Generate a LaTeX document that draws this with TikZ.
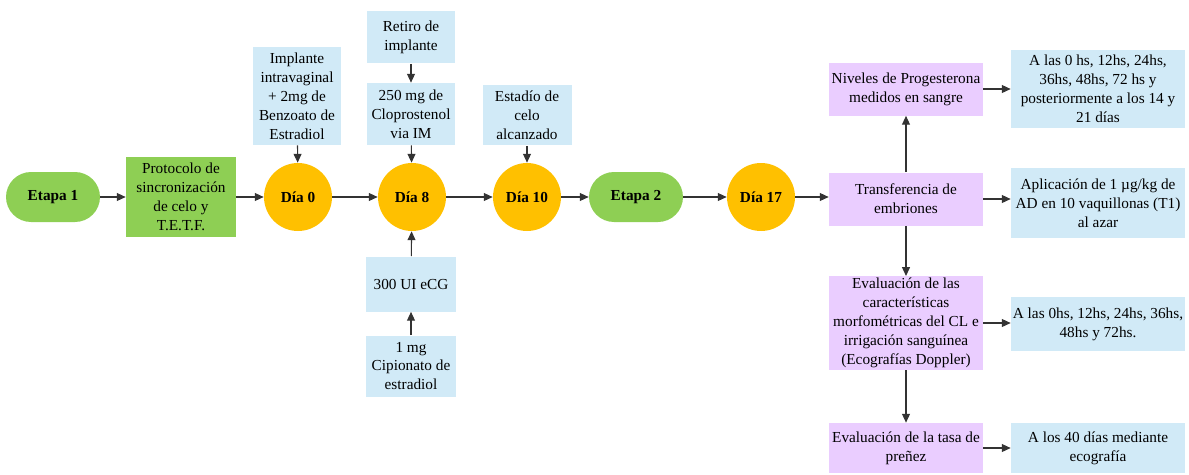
\documentclass[tikz,border=0pt]{standalone}
\usepackage{fontspec}
\setmainfont{Liberation Serif}
\usetikzlibrary{arrows.meta}
\definecolor{verde}{RGB}{142,207,84}
\definecolor{naranja}{RGB}{255,192,0}
\definecolor{celeste}{RGB}{209,234,247}
\definecolor{lila}{RGB}{234,205,255}
\begin{document}
\begin{tikzpicture}[x=0.02cm,y=-0.02cm,
  font=\fontsize{8.7}{10.8}\selectfont,
  etapa/.style={fill=verde,rounded corners=0.5cm,minimum width=1.88cm,minimum height=1cm,font=\fontsize{8.7}{10.8}\selectfont\bfseries},
  dia/.style={circle,fill=naranja,minimum size=1.36cm,inner sep=0pt,font=\fontsize{8.7}{10.8}\selectfont\bfseries},
  verdebox/.style={fill=verde,align=center,inner sep=1pt},
  caja/.style={fill=celeste,align=center,inner sep=1pt},
  medida/.style={fill=lila,align=center,inner sep=1pt,minimum width=3.08cm},
  flecha/.style={-{Triangle[length=5pt,width=4.5pt]},black!80,line width=0.6pt}]
\useasboundingbox (0,0) rectangle (1189,474);

\node[etapa] (etapa1) at (53,197) {Etapa 1};
\node[verdebox,minimum width=2.2cm,minimum height=1.6cm] (proto) at (181,197) {Protocolo de\\sincronización\\de celo y\\T.E.T.F.};
\node[dia] (dia0) at (298,197) {Día 0};
\node[dia] (dia8) at (412,197) {Día 8};
\node[dia] (dia10) at (527,197) {Día 10};
\node[etapa] (etapa2) at (636,197) {Etapa 2};
\node[dia] (dia17) at (761,197) {Día 17};

\node[caja,minimum width=1.76cm,minimum height=1.96cm] (implante) at (297,96) {Implante\\intravaginal\\+ 2mg de\\Benzoato de\\Estradiol};
\node[caja,minimum width=1.78cm,minimum height=1.06cm] (retiro) at (411,37) {Retiro de\\implante};
\node[caja,minimum width=1.78cm,minimum height=1.24cm] (clopro) at (411,114) {250 mg de\\Cloprostenol\\via IM};
\node[caja,minimum width=1.78cm,minimum height=1.22cm] (estadio) at (527,115) {Estadío de\\celo\\alcanzado};
\node[caja,minimum width=1.8cm,minimum height=1.1cm] (ecg) at (411,284) {300 UI eCG};
\node[caja,minimum width=1.8cm,minimum height=1.22cm] (cipio) at (411,366) {1 mg\\Cipionato de\\estradiol};

\node[medida,minimum height=1.06cm] (niveles) at (906,89) {Niveles de Progesterona\\medidos en sangre};
\node[medida,minimum height=1.06cm] (transf) at (906,199) {Transferencia de\\embriones};
\node[medida,minimum height=1.86cm] (evalcl) at (906,323) {Evaluación de las\\características\\morfométricas del CL e\\irrigación sanguínea\\(Ecografías Doppler)};
\node[medida,minimum height=1cm] (tasa) at (906,448) {Evaluación de la tasa de\\preñez};

\node[caja,minimum width=3.48cm,minimum height=1.58cm] (horas1) at (1098,89) {A las 0 hs, 12hs, 24hs,\\36hs, 48hs, 72 hs y\\posteriormente a los 14 y\\21 días};
\node[caja,minimum width=3.48cm,minimum height=1.4cm] (aplic) at (1098,203) {Aplicación de 1 µg/kg de\\AD en 10 vaquillonas (T1)\\al azar};
\node[caja,minimum width=3.48cm,minimum height=1.08cm] (horas2) at (1098,324) {A las 0hs, 12hs, 24hs, 36hs,\\48hs y 72hs.};
\node[caja,minimum width=3.48cm,minimum height=1cm] (ecog) at (1098,448) {A los 40 días mediante\\ecografía};

% linea principal
\draw[flecha] (etapa1) -- (proto);
\draw[flecha] (proto) -- (dia0);
\draw[flecha] (dia0) -- (dia8);
\draw[flecha] (dia8) -- (dia10);
\draw[flecha] (dia10) -- (etapa2);
\draw[flecha] (etapa2) -- (dia17);
\draw[flecha] (dia17) -- (dia17 -| transf.west);

\draw[flecha] (implante) -- (dia0);
\draw[flecha] (retiro) -- (clopro);
\draw[flecha] (clopro) -- (dia8);
\draw[flecha] (estadio) -- (dia10);
\draw[flecha] (cipio) -- (ecg);
\draw[flecha] (ecg) -- (dia8);

% etapa 2
\draw[flecha] (transf) -- (niveles);
\draw[flecha] (transf) -- (evalcl);
\draw[flecha] (evalcl) -- (tasa);
\draw[flecha] (niveles) -- (niveles -| horas1.west);
\draw[flecha] (transf.east) -- (transf.east -| aplic.west);
\draw[flecha] (evalcl) -- (evalcl -| horas2.west);
\draw[flecha] (tasa) -- (ecog);
\end{tikzpicture}
\end{document}
